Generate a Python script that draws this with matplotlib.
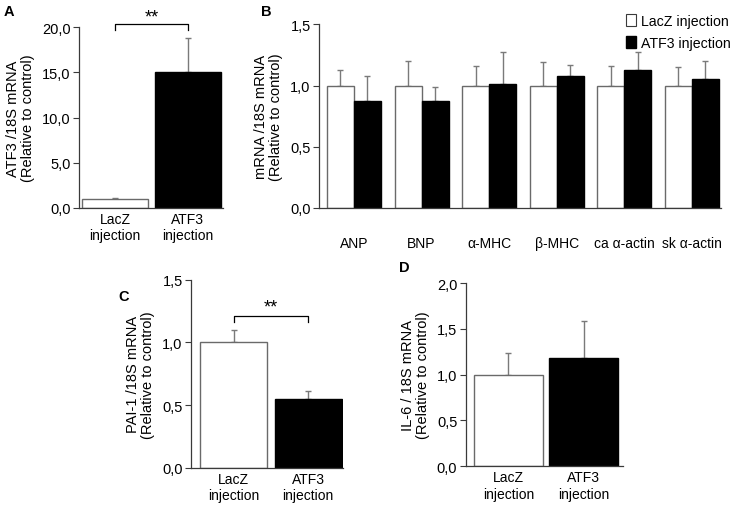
import matplotlib.pyplot as plt
from matplotlib.patches import Patch

plt.rcParams['font.family'] = ['Liberation Sans', 'DejaVu Sans']
plt.rcParams['font.size'] = 10

# panel A
a_groups = ['LacZ\ninjection', 'ATF3\ninjection']
a_vals = [1.0, 15.0]
a_err = [0.1, 3.75]
a_ticks = [0, 5, 10, 15, 20]
a_ticklabels = ['0,0', '5,0', '10,0', '15,0', '20,0']

# panel B
b_genes = ['ANP', 'BNP', 'α-MHC', 'β-MHC', 'ca α-actin', 'sk α-actin']
b_lacz = [1.0, 1.0, 1.0, 1.0, 1.0, 1.0]
b_lacz_err = [0.13, 0.20, 0.16, 0.19, 0.16, 0.15]
b_atf3 = [0.87, 0.875, 1.015, 1.08, 1.13, 1.055]
b_atf3_err = [0.21, 0.11, 0.255, 0.09, 0.14, 0.145]
b_ticks = [0, 0.5, 1.0, 1.5]
b_ticklabels = ['0,0', '0,5', '1,0', '1,5']

# panel C
c_vals = [1.0, 0.548]
c_err = [0.096, 0.062]
c_ticks = [0, 0.5, 1.0, 1.5]
c_ticklabels = ['0,0', '0,5', '1,0', '1,5']

# panel D
d_vals = [1.0, 1.18]
d_err = [0.24, 0.40]
d_ticks = [0, 0.5, 1.0, 1.5, 2.0]
d_ticklabels = ['0,0', '0,5', '1,0', '1,5', '2,0']

spine_c = '#3a3a3a'
edge_c = '#6a6a6a'
err_c = '#7a7a7a'

fig = plt.figure(figsize=(7.39, 5.06), dpi=100)


def style(ax, ticks, labels, ylim):
    ax.spines['top'].set_visible(False)
    ax.spines['right'].set_visible(False)
    for s in ('left', 'bottom'):
        ax.spines[s].set_color(spine_c)
        ax.spines[s].set_linewidth(0.9)
    ax.set_ylim(*ylim)
    ax.set_yticks(ticks, labels)
    ax.tick_params(axis='y', direction='out', length=4, width=0.8, color=spine_c,
                   pad=2, labelsize=10.5)
    ax.tick_params(axis='x', length=0, pad=3)


def two_bars(ax, vals, err, width):
    xs = [0, 1]
    ax.bar(xs, vals, width=width, color=['white', 'black'],
           edgecolor=[edge_c, 'black'], linewidth=1.0, zorder=2)
    ax.errorbar(xs, vals, yerr=[[0, 0], err], fmt='none', ecolor=err_c,
                elinewidth=1.0, capsize=2.5, capthick=1.0, zorder=1)
    ax.set_xticks(xs, a_groups)


def bracket(ax, x0, x1, y_top, y_bot, y_txt):
    ax.plot([x0, x0, x1, x1], [y_bot, y_top, y_top, y_bot], color='black',
            lw=0.9, clip_on=False)
    ax.text((x0 + x1) / 2, y_txt, '**', ha='center', va='center', fontsize=13,
            clip_on=False)


ylab_kw = dict(labelpad=5, linespacing=1.1, fontsize=10.5)

# A
axA = fig.add_axes([79 / 739, 1 - 209 / 506, 144 / 739, 181 / 506])
two_bars(axA, a_vals, a_err, 0.904)
style(axA, a_ticks, a_ticklabels, (0, 20))
axA.set_xlim(-0.493, 1.48)
axA.set_ylabel('ATF3 /18S mRNA\n(Relative to control)', **ylab_kw)
bracket(axA, 0, 1, 20.33, 19.67, 21.1)

# B
axB = fig.add_axes([319 / 739, 1 - 209 / 506, 402 / 739, 183.7 / 506])
xs = list(range(len(b_genes)))
xl = [x - 0.2 for x in xs]
xr = [x + 0.2 for x in xs]
axB.bar(xl, b_lacz, width=0.4, color='white', edgecolor=edge_c, linewidth=1.0, zorder=2)
axB.bar(xr, b_atf3, width=0.4, color='black', edgecolor='black', linewidth=1.0, zorder=2)
axB.errorbar(xl, b_lacz, yerr=[[0] * 6, b_lacz_err], fmt='none', ecolor=err_c,
             elinewidth=1.0, capsize=2.5, capthick=1.0, zorder=1)
axB.errorbar(xr, b_atf3, yerr=[[0] * 6, b_atf3_err], fmt='none', ecolor=err_c,
             elinewidth=1.0, capsize=2.5, capthick=1.0, zorder=1)
style(axB, b_ticks, b_ticklabels, (0, 1.5))
axB.set_xticks(xs, b_genes)
axB.tick_params(axis='x', pad=20)
axB.set_xlim(-0.517, 5.43)
axB.set_ylabel('mRNA /18S mRNA\n(Relative to control)', **ylab_kw)
handles = [Patch(facecolor='white', edgecolor=spine_c, linewidth=0.8),
           Patch(facecolor='black', edgecolor='black')]
fig.legend(handles, ['LacZ injection', 'ATF3 injection'], loc='upper right',
           bbox_to_anchor=(731 / 739, 1 - 15 / 506), frameon=False, fontsize=10.2,
           handlelength=0.75, handleheight=0.9, handletextpad=0.35,
           labelspacing=0.55, borderaxespad=0, borderpad=0)

# C
axC = fig.add_axes([191 / 739, 1 - 468.7 / 506, 152 / 739, 188 / 506])
two_bars(axC, c_vals, c_err, 0.9)
style(axC, c_ticks, c_ticklabels, (0, 1.5))
axC.set_xlim(-0.572, 1.47)
axC.set_ylabel('PAI-1 /18S mRNA\n(Relative to control)', **ylab_kw)
bracket(axC, 0, 1, 1.213, 1.165, 1.28)

# D
axD = fig.add_axes([465.7 / 739, 1 - 467.3 / 506, 157 / 739, 183.3 / 506])
two_bars(axD, d_vals, d_err, 0.91)
style(axD, d_ticks, d_ticklabels, (0, 2.0))
axD.set_xlim(-0.565, 1.515)
axD.set_ylabel('IL-6 / 18S mRNA\n(Relative to control)', **ylab_kw)

for lbl, x, y in [('A', 9, 12), ('B', 266, 12), ('C', 124, 297), ('D', 404, 268)]:
    fig.text(x / 739, 1 - y / 506, lbl, fontsize=10.5, fontweight='bold',
             ha='center', va='center')

fig.savefig('out.png', dpi=100)
